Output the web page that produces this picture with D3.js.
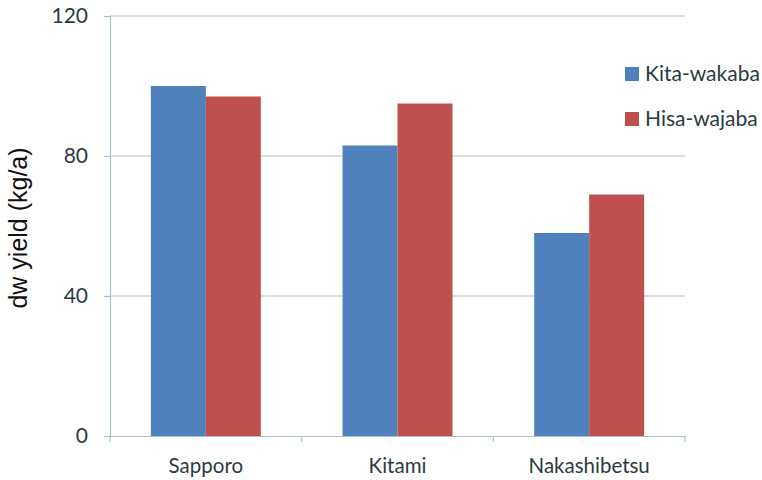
<!doctype html>
<html>
<head>
<meta charset="UTF-8">
<script src="https://d3js.org/d3.v7.min.js"></script>
<style>
  body { margin: 0; background: #fff; }
  svg text { font-family: Lato, "Open Sans", sans-serif; fill: #2b3b42; }
</style>
</head>
<body>
<svg width="762" height="480"></svg>
<script>
const sites = ["Sapporo", "Kitami", "Nakashibetsu"];
const varieties = ["Kita-wakaba", "Hisa-wajaba"];
const kitaWakaba = [100, 83, 58];
const hisaWajaba = [97, 95, 69];
const yTicks = [0, 40, 80, 120];
const colors = ["#4f81bd", "#c0504d"];

var svg = d3.select("svg");
var margin = {top: 16, right: 77, bottom: 44, left: 110};
var width = 762 - margin.left - margin.right;
var height = 480 - margin.top - margin.bottom;

var g = svg.append("g").attr("transform", "translate(" + margin.left + "," + margin.top + ")");

var x0 = d3.scaleBand().domain(sites).range([0, width]).padding(0);
var x1 = d3.scaleBand().domain(varieties).range([0, x0.bandwidth()]).paddingInner(0).paddingOuter(0.743);
var y = d3.scaleLinear().domain([0, 120]).range([height, 0]);

// gridlines
g.selectAll(".grid").data(yTicks.filter(d => d > 0)).enter().append("line")
  .attr("x1", 0).attr("x2", width)
  .attr("y1", d => y(d)).attr("y2", d => y(d))
  .attr("stroke", "#a9c3cb").attr("stroke-width", 1.2);

// bars
var rows = sites.map((s, i) => ({site: s, vals: [kitaWakaba[i], hisaWajaba[i]]}));
var grp = g.selectAll(".site").data(rows).enter().append("g")
  .attr("transform", d => "translate(" + x0(d.site) + ",0)");
grp.selectAll("rect").data(d => d.vals.map((v, j) => ({k: varieties[j], v: v, j: j})))
  .enter().append("rect")
  .attr("x", d => x1(d.k))
  .attr("width", x1.bandwidth())
  .attr("y", d => y(d.v))
  .attr("height", d => height - y(d.v))
  .attr("fill", d => colors[d.j]);

// y axis
var yAxis = g.append("g").call(d3.axisLeft(y).tickValues(yTicks).tickSize(6).tickPadding(16));
yAxis.select(".domain").attr("stroke", "#a9c3cb").attr("stroke-width", 1.2);
yAxis.selectAll(".tick line").attr("stroke", "#a9c3cb").attr("stroke-width", 1.2);
yAxis.selectAll(".tick text").style("font-size", "21px").attr("fill", "#2b3b42");

// x axis
var xAxis = g.append("g").attr("transform", "translate(0," + height + ")")
  .call(d3.axisBottom(x0).tickSize(0).tickPadding(22));
xAxis.select(".domain").attr("stroke", "#a9c3cb").attr("stroke-width", 1.2);
xAxis.selectAll(".tick text").style("font-size", "20.5px").attr("fill", "#2b3b42");
g.append("g").selectAll("line").data(d3.range(sites.length + 1)).enter().append("line")
  .attr("x1", d => d * x0.step()).attr("x2", d => d * x0.step())
  .attr("y1", height).attr("y2", height + 6)
  .attr("stroke", "#a9c3cb").attr("stroke-width", 1.2);

// y label
svg.append("text")
  .attr("transform", "translate(27,228) rotate(-90)")
  .attr("text-anchor", "middle")
  .style("font-family", "Liberation Sans, Arial, sans-serif")
  .style("font-size", "25px")
  .style("fill", "#111")
  .text("dw yield (kg/a)");

// legend
var leg = svg.append("g").attr("transform", "translate(625,67)");
varieties.forEach(function(v, i) {
  leg.append("rect").attr("x", 0).attr("y", i * 45).attr("width", 14).attr("height", 14).attr("fill", colors[i]);
  leg.append("text").attr("x", 20).attr("y", i * 45 + 7).attr("dy", "0.35em")
    .style("font-size", "21px").text(v);
});
</script>
</body>
</html>
